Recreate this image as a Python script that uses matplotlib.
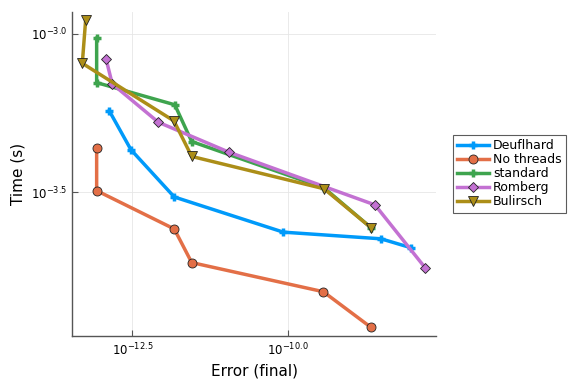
import numpy as np
import matplotlib
matplotlib.use("Agg")
import matplotlib.pyplot as plt
from matplotlib.ticker import FixedLocator, NullLocator

# log10 values
names = ["Deuflhard", "No threads", "standard", "Romberg", "Bulirsch"]

deuf_err = [-12.869, -12.521, -11.827, -10.080, -8.514, -8.038]
deuf_time = [-3.243, -3.366, -3.515, -3.626, -3.647, -3.675]

nothr_err = [-13.071, -13.071, -11.827, -11.548, -9.439, -8.679]
nothr_time = [-3.359, -3.495, -3.616, -3.722, -3.814, -3.926]

std_err = [-13.071, -13.071, -11.819, -11.548, -9.428, -8.675]
std_time = [-3.014, -3.154, -3.224, -3.340, -3.486, -3.612]

romb_err = [-12.921, -12.821, -12.083, -10.946, -8.611, -7.809]
romb_time = [-3.079, -3.158, -3.279, -3.374, -3.540, -3.738]

buli_err = [-13.247, -13.301, -11.832, -11.548, -9.428, -8.675]
buli_time = [-2.956, -3.093, -3.275, -3.387, -3.489, -3.612]

series = [
    (deuf_err, deuf_time, "#009AFA", "P"),
    (nothr_err, nothr_time, "#E36F47", "o"),
    (std_err, std_time, "#3EA44E", "P"),
    (romb_err, romb_time, "#C371D2", "D"),
    (buli_err, buli_time, "#AC8E18", "v"),
]

fig = plt.figure(figsize=(5.76, 3.84), dpi=100)
ax = fig.add_axes([0.125, 0.124, 0.632, 0.846])

for name, (e, t, c, m) in zip(names, series):
    x = 10 ** np.array(e)
    y = 10 ** np.array(t)
    if m == "P":
        ax.plot(x, y, color=c, lw=2.5, marker="+", ms=6, mew=2.5,
                mec=c, label=name)
    else:
        ms = 5 if m == "D" else 6.5
        ax.plot(x, y, color=c, lw=2.5, marker=m, ms=ms, mfc=c,
                mec="#222222", mew=0.6, label=name)

ax.set_xscale("log")
ax.set_yscale("log")
ax.set_xlim(10 ** -13.466, 10 ** -7.633)
ax.set_ylim(10 ** -3.955, 10 ** -2.9296)

ax.xaxis.set_major_locator(FixedLocator([10 ** -12.5, 10 ** -10.0]))
ax.yaxis.set_major_locator(FixedLocator([10 ** -3.5, 10 ** -3.0]))
ax.xaxis.set_minor_locator(NullLocator())
ax.yaxis.set_minor_locator(NullLocator())
ax.set_xticklabels([r"$10^{-12.5}$", r"$10^{-10.0}$"])
ax.set_yticklabels([r"$10^{-3.5}$", r"$10^{-3.0}$"])

ax.grid(True, color="#e6e6e6", lw=0.6)
ax.set_axisbelow(True)
for s in ["top", "right"]:
    ax.spines[s].set_visible(False)
for s in ["left", "bottom"]:
    ax.spines[s].set_color("#555555")
    ax.spines[s].set_linewidth(1.0)
ax.tick_params(direction="in", length=4, color="#555555", labelsize=8.5)

ax.set_xlabel("Error (final)", fontsize=11)
ax.set_ylabel("Time (s)", fontsize=11)

leg = ax.legend(loc="center left", bbox_to_anchor=(1.035, 0.5), fontsize=9,
                frameon=True, fancybox=False, borderpad=0.35,
                handlelength=2.6, labelspacing=0.08, handletextpad=0.3,
                borderaxespad=0.3)
leg.get_frame().set_edgecolor("#333333")
leg.get_frame().set_linewidth(0.8)

fig.savefig("out.png", dpi=100)
